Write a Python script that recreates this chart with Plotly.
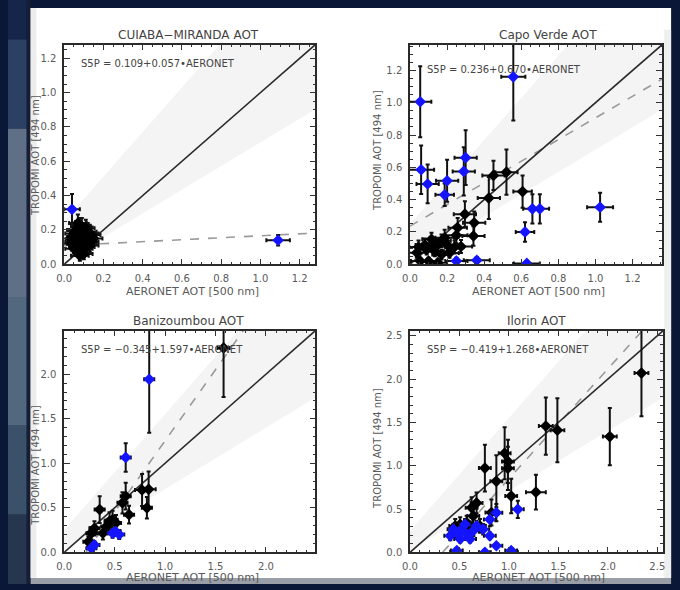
import plotly.graph_objects as go

W, H = 680, 590

# ---------------- data ----------------
panel_titles = ["CUIABA\u2212MIRANDA AOT", "Capo Verde AOT", "Banizoumbou AOT", "Ilorin AOT"]
fit_text = ["S5P = 0.109+0.057\u2022AERONET", "S5P = 0.236+0.670\u2022AERONET",
            "S5P = \u22120.345+1.597\u2022AERONET", "S5P = \u22120.419+1.268\u2022AERONET"]
fit_a = [0.109, 0.236, -0.345, -0.419]
fit_b = [0.057, 0.670, 1.597, 1.268]
axis_max = [1.28, 1.36, 2.49, 2.56]
major_dtick = [0.2, 0.2, 0.5, 0.5]
minor_dtick = [0.05, 0.05, 0.1, 0.1]
env_up_a, env_up_b = 0.25, 1.30
env_lo_a, env_lo_b = 0.02, 0.69

# CUIABA-MIRANDA
cu_k_x = [0.03, 0.05, 0.06, 0.07, 0.08, 0.09, 0.10, 0.11, 0.12, 0.13, 0.14, 0.05, 0.07, 0.09, 0.11, 0.13, 0.06, 0.08,
          0.10, 0.12, 0.04, 0.06, 0.08, 0.10, 0.12, 0.07, 0.09, 0.11, 0.05, 0.08, 0.10, 0.13, 0.15, 0.09, 0.07]
cu_k_y = [0.15, 0.18, 0.12, 0.20, 0.14, 0.22, 0.16, 0.10, 0.19, 0.13, 0.17, 0.09, 0.24, 0.07, 0.21, 0.11, 0.16, 0.05,
          0.13, 0.15, 0.12, 0.20, 0.18, 0.09, 0.12, 0.10, 0.17, 0.14, 0.13, 0.22, 0.06, 0.18, 0.15, 0.12, 0.16]
cu_k_xe = [0.045] * 35
cu_k_ye = [0.045, 0.05, 0.04, 0.05, 0.04, 0.05, 0.05, 0.04, 0.05, 0.04, 0.05, 0.04, 0.05, 0.03, 0.05, 0.04, 0.04, 0.03,
           0.04, 0.05, 0.04, 0.05, 0.05, 0.03, 0.04, 0.04, 0.05, 0.04, 0.04, 0.05, 0.03, 0.05, 0.04, 0.04, 0.05]
cu_b_x = [0.04, 1.09]
cu_b_y = [0.32, 0.14]
cu_b_xe = [0.04, 0.06]
cu_b_ye = [0.09, 0.03]

# Capo Verde
cv_k_x = [0.52, 0.45, 0.425, 0.607, 0.296, 0.346, 0.342, 0.25, 0.187, 0.15, 0.116, 0.08, 0.046, 0.037, 0.134, 0.17,
          0.20, 0.24, 0.213, 0.275, 0.055, 0.10, 0.15, 0.17, 0.116, 0.09, 0.257]
cv_k_y = [0.57, 0.55, 0.41, 0.45, 0.31, 0.257, 0.175, 0.18, 0.164, 0.12, 0.12, 0.12, 0.107, 0.072, 0.08, 0.06,
          0.12, 0.107, 0.07, 0.11, 0.02, 0.02, 0.01, 0.145, 0.155, 0.09, 0.226]
cv_k_xe = [0.06, 0.06, 0.06, 0.05, 0.06, 0.06, 0.06, 0.06, 0.05, 0.05, 0.05, 0.05, 0.05, 0.05, 0.05, 0.05,
           0.05, 0.05, 0.05, 0.06, 0.05, 0.05, 0.05, 0.05, 0.05, 0.05, 0.05]
cv_k_ye = [0.14, 0.09, 0.13, 0.10, 0.08, 0.07, 0.06, 0.05, 0.05, 0.04, 0.04, 0.04, 0.04, 0.03, 0.03, 0.03,
           0.04, 0.04, 0.03, 0.04, 0.02, 0.02, 0.02, 0.04, 0.04, 0.03, 0.06]
cv_b_x = [0.055, 0.557, 0.06, 0.095, 0.20, 0.187, 0.29, 0.30, 0.62, 0.66, 0.70, 1.025, 0.25, 0.36, 0.63]
cv_b_y = [1.006, 1.16, 0.585, 0.497, 0.517, 0.43, 0.575, 0.66, 0.20, 0.343, 0.343, 0.353, 0.02, 0.025, 0.005]
cv_b_xe = [0.06, 0.065, 0.07, 0.06, 0.06, 0.05, 0.06, 0.06, 0.05, 0.05, 0.05, 0.07, 0.06, 0.07, 0.07]
cv_b_ye = [0.22, 0.27, 0.15, 0.12, 0.13, 0.07, 0.15, 0.17, 0.06, 0.09, 0.09, 0.09, 0.02, 0.02, 0.01]

# Banizoumbou
bz_k_x = [1.58, 0.837, 0.772, 0.82, 0.61, 0.578, 0.643, 0.352, 0.45, 0.48, 0.417, 0.30, 0.27, 0.24, 0.384, 0.514]
bz_k_y = [2.295, 0.707, 0.70, 0.50, 0.63, 0.556, 0.423, 0.48, 0.35, 0.367, 0.29, 0.27, 0.215, 0.12, 0.215, 0.33]
bz_k_xe = [0.06, 0.07, 0.07, 0.05, 0.05, 0.05, 0.05, 0.05, 0.05, 0.05, 0.05, 0.05, 0.05, 0.05, 0.05, 0.05]
bz_k_ye = [0.55, 0.20, 0.18, 0.12, 0.15, 0.12, 0.10, 0.15, 0.10, 0.10, 0.08, 0.08, 0.07, 0.06, 0.07, 0.09]
bz_b_x = [0.843, 0.61, 0.30, 0.27, 0.51, 0.48, 0.546]
bz_b_y = [1.943, 1.066, 0.083, 0.045, 0.234, 0.215, 0.20]
bz_b_xe = [0.05, 0.05, 0.05, 0.05, 0.05, 0.05, 0.05]
bz_b_ye = [0.60, 0.16, 0.04, 0.04, 0.05, 0.05, 0.05]

# Ilorin
il_k_x = [2.34, 2.02, 1.373, 1.49, 1.273, 0.757, 0.873, 0.957, 0.99, 0.99, 1.023, 0.823, 0.673, 0.623, 0.64,
          0.573, 0.507, 0.457, 0.557, 0.707]
il_k_y = [2.07, 1.336, 1.458, 1.41, 0.695, 0.973, 0.82, 1.145, 1.05, 0.97, 0.65, 0.46, 0.57, 0.515, 0.42,
          0.343, 0.324, 0.305, 0.286, 0.305]
il_k_xe = [0.07, 0.07, 0.07, 0.07, 0.10, 0.06, 0.06, 0.06, 0.06, 0.06, 0.06, 0.06, 0.06, 0.06, 0.06,
           0.06, 0.06, 0.06, 0.06, 0.06]
il_k_ye = [0.50, 0.33, 0.33, 0.37, 0.20, 0.27, 0.30, 0.30, 0.25, 0.25, 0.20, 0.15, 0.12, 0.12, 0.10,
           0.08, 0.08, 0.08, 0.08, 0.08]
il_b_x = [1.09, 0.873, 0.807, 0.74, 0.407, 0.44, 0.507, 0.573, 0.64, 0.673, 0.607, 0.507, 0.807, 0.873, 0.473,
          0.757, 1.023, 0.557, 0.473]
il_b_y = [0.496, 0.458, 0.38, 0.267, 0.19, 0.267, 0.248, 0.21, 0.248, 0.305, 0.153, 0.153, 0.19, 0.076, 0.02,
          0.0, 0.02, 0.324, 0.229]
il_b_xe = [0.06] * 19
il_b_ye = [0.10, 0.10, 0.08, 0.06, 0.05, 0.06, 0.06, 0.05, 0.06, 0.06, 0.04, 0.04, 0.04, 0.03, 0.02,
           0.01, 0.02, 0.06, 0.05]

black_sets = [(cu_k_x, cu_k_y, cu_k_xe, cu_k_ye), (cv_k_x, cv_k_y, cv_k_xe, cv_k_ye),
              (bz_k_x, bz_k_y, bz_k_xe, bz_k_ye), (il_k_x, il_k_y, il_k_xe, il_k_ye)]
blue_sets = [(cu_b_x, cu_b_y, cu_b_xe, cu_b_ye), (cv_b_x, cv_b_y, cv_b_xe, cv_b_ye),
             (bz_b_x, bz_b_y, bz_b_xe, bz_b_ye), (il_b_x, il_b_y, il_b_xe, il_b_ye)]

# ---------------- layout geometry (pixels) ----------------
boxes = [(57, 312, 45, 267), (408, 664, 45, 267), (57, 312, 334, 558), (408, 665, 334, 558)]
title_pos = [(183, 35), (548, 35), (183, 324), (536, 324)]
fit_pos = [(72, 64), (423, 70), (72, 353), (423, 353)]
xlab_pos = [(187, 294), (538, 294), (187, 583), (538, 583)]
ylab_pos = [(28, 157), (375, 152), (28, 470), (375, 453)]

FONT = "DejaVu Sans"
TXT = "#5a5a5a"

def px(x):
    return x / W

def py(y):
    return 1 - y / H

fig = go.Figure()

for i in range(4):
    xa = "x" if i == 0 else f"x{i+1}"
    ya = "y" if i == 0 else f"y{i+1}"
    R = axis_max[i]
    # expected-error envelope
    xt = (R - env_up_a) / env_up_b
    fig.add_trace(go.Scatter(
        x=[0, 0, xt, R, R, 0], y=[env_lo_a, env_up_a, R, R, env_lo_a + env_lo_b * R, env_lo_a],
        fill="toself", fillcolor="#f4f4f4", line=dict(width=0), mode="lines",
        hoverinfo="skip", showlegend=False, xaxis=xa, yaxis=ya))
    # regression line (dashed)
    a, b = fit_a[i], fit_b[i]
    x0 = max(0.0, -a / b) if b != 0 else 0.0
    x1 = min(R, (R - a) / b)
    fig.add_trace(go.Scatter(x=[x0, x1], y=[a + b * x0, a + b * x1], mode="lines",
                             line=dict(color="#9a9a9a", width=1.6, dash="dash"),
                             showlegend=False, xaxis=xa, yaxis=ya))
    # 1:1 line
    fig.add_trace(go.Scatter(x=[0, R], y=[0, R], mode="lines",
                             line=dict(color="#2a2a2a", width=1.6),
                             showlegend=False, xaxis=xa, yaxis=ya))
    # points
    for (sx, sy, sxe, sye), col in ((black_sets[i], "#000000"), (blue_sets[i], "#1414ff")):
        fig.add_trace(go.Scatter(
            x=sx, y=sy, mode="markers",
            marker=dict(color=col, size=9, symbol="diamond", line=dict(width=0)),
            error_x=dict(type="data", array=sxe, visible=True, color="#111111", thickness=2, width=2),
            error_y=dict(type="data", array=sye, visible=True, color="#111111", thickness=2, width=2),
            showlegend=False, xaxis=xa, yaxis=ya))

    l, r, t, btm = boxes[i]
    common = dict(range=[0, R], tick0=0, dtick=major_dtick[i], tickformat=".1f",
                  ticks="inside", ticklen=6, tickwidth=1, tickcolor="#333333",
                  showline=True, linecolor="#2a2a2a", linewidth=1.5, mirror="ticks",
                  showgrid=False, zeroline=False, ticklabelstandoff=4,
                  tickfont=dict(family=FONT, size=10, color=TXT),
                  minor=dict(dtick=minor_dtick[i], ticks="inside", ticklen=3, tickcolor="#333333"))
    xkey = "xaxis" if i == 0 else f"xaxis{i+1}"
    ykey = "yaxis" if i == 0 else f"yaxis{i+1}"
    fig.update_layout(**{
        xkey: dict(domain=[px(l), px(r)], anchor=ya, **common),
        ykey: dict(domain=[py(btm), py(t)], anchor=xa, **common),
    })

    fig.add_annotation(x=px(title_pos[i][0]), y=py(title_pos[i][1]), xref="paper", yref="paper",
                       text=panel_titles[i], showarrow=False, xanchor="center", yanchor="middle",
                       font=dict(family=FONT, size=12, color="#444444"))
    fig.add_annotation(x=px(fit_pos[i][0]), y=py(fit_pos[i][1]), xref="paper", yref="paper",
                       text=fit_text[i], showarrow=False, xanchor="left", yanchor="middle",
                       font=dict(family=FONT, size=10, color="#444444"))
    fig.add_annotation(x=px(xlab_pos[i][0]), y=py(xlab_pos[i][1]), xref="paper", yref="paper",
                       text="AERONET AOT [500 nm]", showarrow=False, xanchor="center", yanchor="middle",
                       font=dict(family=FONT, size=11, color=TXT))
    fig.add_annotation(x=px(ylab_pos[i][0]), y=py(ylab_pos[i][1]), xref="paper", yref="paper",
                       text="TROPOMI AOT [494 nm]", showarrow=False, textangle=-90,
                       xanchor="center", yanchor="middle",
                       font=dict(family=FONT, size=10, color=TXT))

# ---------------- slide background ----------------
shapes = []
def rect(x0, y0, x1, y1, fill):
    shapes.append(dict(type="rect", xref="paper", yref="paper", x0=px(x0), x1=px(x1), y0=py(y1), y1=py(y0),
                       fillcolor=fill, line=dict(width=0), layer="below"))

# left blurred photo strip
strip = [(0, 40, "#16264a"), (40, 130, "#2c4063"), (130, 300, "#5f7086"), (300, 430, "#52687f"),
         (430, 520, "#3b5069"), (520, 590, "#26364f")]
for y0, y1, c in strip:
    rect(0, y0, 19, y1, c)
rect(19, 0, 23, 590, "#141e34")
# slide card
rect(23, 8, 673, 584, "#ffffff")
rect(23, 8, 29, 584, "#ededee")
rect(666, 30, 673, 584, "#efeff0")
rect(23, 584, 673, 590, "#9a9ea6")

fig.update_layout(shapes=shapes, width=W, height=H, autosize=False,
                  margin=dict(l=0, r=0, t=0, b=0),
                  paper_bgcolor="#0b1737", plot_bgcolor="#ffffff", showlegend=False)

fig.write_html("out.html")
